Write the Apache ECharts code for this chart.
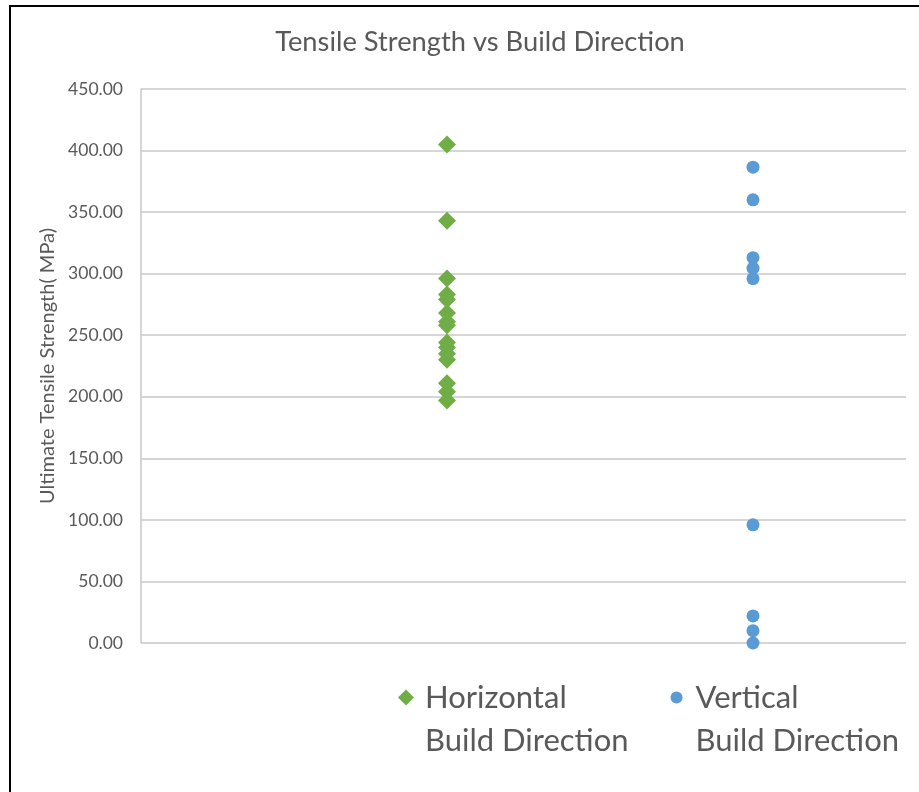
<!DOCTYPE html>
<html>
<head>
<meta charset="utf-8">
<script src="https://cdn.jsdelivr.net/npm/echarts@6/dist/echarts.min.js"></script>
<style>
  html, body { margin: 0; padding: 0; background: #fff; }
  #chart { width: 919px; height: 792px; }
</style>
</head>
<body>
<div id="chart"></div>
<script>
// Ultimate tensile strength (MPa) per specimen, grouped by build direction
var seriesNames = ['Horizontal\nBuild Direction', 'Vertical\nBuild Direction'];
var groupPositions = [1, 2];
var horizontalValues = [405, 343, 296, 283, 279, 268, 261, 258, 244, 240, 235, 230, 211, 204, 197];
var verticalValues = [386.5, 360, 313, 304.5, 296, 96, 22, 10, 0];
var yTicks = [0, 50, 100, 150, 200, 250, 300, 350, 400, 450];

var textColor = '#595959';
var fontFamily = 'Lato, "Open Sans", sans-serif';

// Legend icons span the full two-line label box; the marker sits beside the first line.
var legendLine = 43;
var legendBox = 'M0,0 M22,' + (legendLine * 2) + ' ';
var legendDiamond = 'path://' + legendBox + 'M8,13.5 L16,21.5 L8,29.5 L0,21.5 Z';
var legendCircle = 'path://' + legendBox + 'M8,15.5 A6,6 0 1 1 7.99,15.5 Z';

function toPoints(xPos, values) {
  return values.map(function (v) { return [xPos, v]; });
}

var chart = echarts.init(document.getElementById('chart'), null, { renderer: 'canvas' });

chart.setOption({
  backgroundColor: '#ffffff',
  animation: false,
  title: {
    text: 'Tensile Strength vs Build Direction',
    left: 475,
    textAlign: 'center',
    top: 24,
    textStyle: { color: textColor, fontSize: 27.3, fontWeight: 'normal', fontFamily: fontFamily }
  },
  grid: { left: 141, right: 13, top: 89, bottom: 149, containLabel: false },
  xAxis: {
    type: 'value',
    min: 0,
    max: 2.5,
    show: false
  },
  yAxis: {
    type: 'value',
    min: yTicks[0],
    max: yTicks[yTicks.length - 1],
    interval: 50,
    name: 'Ultimate Tensile Strength( MPa)',
    nameLocation: 'middle',
    nameRotate: 90,
    nameGap: 75,
    nameTextStyle: { color: textColor, fontSize: 20, fontFamily: fontFamily },
    axisLine: { show: true, lineStyle: { color: '#c8c8c8', width: 1.5 } },
    axisTick: { show: false },
    axisLabel: {
      color: textColor,
      fontSize: 17.5,
      fontFamily: fontFamily,
      margin: 18,
      formatter: function (v) { return v.toFixed(2); }
    },
    splitLine: { show: true, lineStyle: { color: '#c8c8c8', width: 1.5 } }
  },
  legend: {
    left: 393,
    top: 671,
    itemWidth: 22,
    itemHeight: legendLine * 2,
    itemGap: 40,
    data: [
      { name: seriesNames[0], icon: legendDiamond },
      { name: seriesNames[1], icon: legendCircle }
    ],
    textStyle: {
      color: textColor,
      fontSize: 31,
      fontFamily: fontFamily,
      lineHeight: legendLine
    }
  },
  graphic: [{
    type: 'rect',
    shape: { x: 10, y: 6, width: 1000, height: 1000 },
    style: { fill: 'none', stroke: '#000000', lineWidth: 2 },
    silent: true,
    z: 100
  }],
  series: [
    {
      name: seriesNames[0],
      type: 'scatter',
      symbol: 'diamond',
      symbolSize: 18,
      itemStyle: { color: '#70AD47', opacity: 1 },
      data: toPoints(groupPositions[0], horizontalValues)
    },
    {
      name: seriesNames[1],
      type: 'scatter',
      symbol: 'circle',
      symbolSize: 13,
      itemStyle: { color: '#5B9BD5', opacity: 1 },
      data: toPoints(groupPositions[1], verticalValues)
    }
  ]
});
</script>
</body>
</html>
